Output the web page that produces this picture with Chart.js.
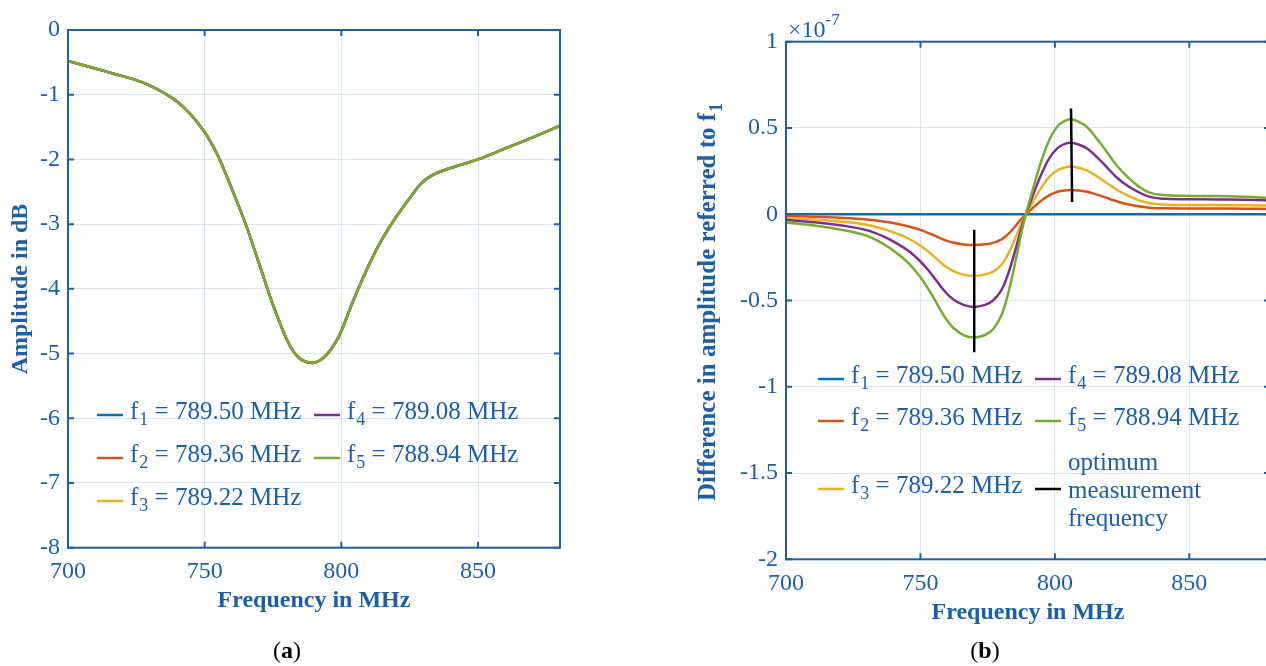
<!DOCTYPE html>
<html>
<head>
<meta charset="utf-8">
<script src="https://cdn.jsdelivr.net/npm/chart.js@4.4.1/dist/chart.umd.min.js"></script>
<style>
    html, body { margin: 0; padding: 0; background: #fff; overflow: hidden; }
    #wrap { position: relative; width: 1266px; height: 666px; overflow: hidden; }
    canvas { position: absolute; top: 0; }
    #ampChart { left: 0; }
    #diffChart { left: 640px; }
</style>
</head>
<body>
<div id="wrap">
    <canvas id="ampChart" width="640" height="666"></canvas>
    <canvas id="diffChart" width="660" height="666"></canvas>
</div>
<script>
// ============================================
// DATA
// ============================================

// (a) resonance curve, amplitude in dB (the five curves overlap within the line width)
const ampFreq = [700, 710, 720, 725, 730, 735, 740, 745, 750, 754, 757, 760, 765, 770, 775, 780, 783, 786, 789.5,
    792, 795, 798, 800, 804.5, 809, 814, 818, 821.5, 825, 829, 833, 838, 844, 850, 860, 870, 880];
const amplitudeDb = [-0.48, -0.595, -0.715, -0.775, -0.86, -0.97, -1.11, -1.31, -1.58, -1.87, -2.15, -2.46, -3.0,
    -3.62, -4.25, -4.78, -5.0, -5.11, -5.145, -5.11, -5.0, -4.82, -4.65, -4.17, -3.73, -3.3, -3.02, -2.8, -2.6,
    -2.38, -2.25, -2.16, -2.08, -2.0, -1.83, -1.66, -1.48];

// (b) difference in amplitude referred to f1, in units of 1e-7
const diffFreq = [700, 710, 720, 730, 737, 742, 746, 750, 753, 756, 759, 762, 766, 770, 774, 777, 780, 782, 784,
    786, 787.5, 789.2, 791, 793, 795, 798, 801, 803.5, 806, 809, 812, 816, 819, 823, 827, 831, 835, 840, 850,
    860, 870, 880];
const refFreq = [700, 880];
const diffF1 = [0, 0];
const diffF2 = [-0.01, -0.014, -0.02, -0.03, -0.044, -0.058, -0.073, -0.091, -0.109, -0.129, -0.149, -0.164,
    -0.175, -0.178, -0.174, -0.166, -0.147, -0.124, -0.093, -0.056, -0.028, 0, 0.025, 0.053, 0.079, 0.111, 0.13,
    0.138, 0.141, 0.137, 0.13, 0.112, 0.096, 0.075, 0.058, 0.046, 0.038, 0.034, 0.033, 0.033, 0.032, 0.031];
const diffF3 = [-0.022, -0.03, -0.042, -0.061, -0.089, -0.117, -0.145, -0.183, -0.218, -0.258, -0.298, -0.328,
    -0.35, -0.357, -0.349, -0.333, -0.295, -0.248, -0.185, -0.113, -0.055, 0, 0.05, 0.105, 0.155, 0.218, 0.255,
    0.27, 0.276, 0.268, 0.253, 0.216, 0.184, 0.142, 0.109, 0.082, 0.065, 0.056, 0.053, 0.053, 0.052, 0.05];
const diffF4 = [-0.034, -0.046, -0.064, -0.092, -0.134, -0.176, -0.218, -0.274, -0.326, -0.386, -0.446, -0.491,
    -0.525, -0.537, -0.525, -0.5, -0.443, -0.372, -0.278, -0.169, -0.083, 0, 0.075, 0.158, 0.233, 0.327, 0.383,
    0.406, 0.414, 0.403, 0.381, 0.325, 0.278, 0.213, 0.165, 0.129, 0.102, 0.09, 0.087, 0.086, 0.084, 0.08];
const diffF5 = [-0.048, -0.064, -0.088, -0.125, -0.18, -0.235, -0.29, -0.365, -0.435, -0.515, -0.595, -0.655,
    -0.70, -0.715, -0.70, -0.667, -0.59, -0.495, -0.37, -0.225, -0.11, 0, 0.10, 0.21, 0.31, 0.435, 0.51, 0.54,
    0.55, 0.535, 0.505, 0.43, 0.368, 0.282, 0.216, 0.163, 0.127, 0.111, 0.106, 0.106, 0.102, 0.094];

// optimum measurement frequency markers (gap between the two bars)
const markerFreq = [770, 770, 788, 806, 806.4];
const markerDiff = [-0.09, -0.80, null, 0.613, 0.071];

const seriesFreqs = ['789.50', '789.36', '789.22', '789.08', '788.94'];
const xTickValues = [700, 750, 800, 850];

// ============================================
// STYLE
// ============================================
const AXIS = '#1a5fa8';
const GRID = 'rgba(26, 95, 168, 0.16)';
const COLORS = ['#0072BD', '#D95319', '#EDB120', '#7E2F8E', '#77AC30'];
const FACE = '"Liberation Serif", "Times New Roman", serif';

function font(size, bold) {
    return (bold ? 'bold ' : '') + size + 'px ' + FACE;
}

function pts(xs, ys) {
    return xs.map((x, i) => ({ x: x, y: ys[i] }));
}

// text with sub/superscripts
function drawRich(ctx, parts, x, y, size, bold, color, align) {
    const small = Math.round(size * 0.72);
    let w = 0;
    parts.forEach(p => {
        ctx.font = font(p.sub || p.sup ? small : size, p.bold !== undefined ? p.bold : bold);
        p.w = ctx.measureText(p.t).width + (p.sub ? 1 : 0);
        w += p.w;
    });
    let cx = align === 'center' ? x - w / 2 : x;
    ctx.fillStyle = color;
    ctx.textBaseline = 'middle';
    ctx.textAlign = 'left';
    parts.forEach(p => {
        ctx.font = font(p.sub || p.sup ? small : size, p.bold !== undefined ? p.bold : bold);
        const dy = p.sub ? size * 0.34 : (p.sup ? -size * 0.42 : 0);
        ctx.fillText(p.t, cx + (p.sub ? 1 : 0), y + dy);
        cx += p.w;
    });
}

function fLabel(i) {
    return [{ t: 'f' }, { t: String(i + 1), sub: true }, { t: ' = ' + seriesFreqs[i] + ' MHz' }];
}

// box, inner tick marks, titles and legend
function makeFigure(spec) {
    return {
        id: 'figure',
        afterDraw(chart) {
            const ctx = chart.ctx;
            const a = chart.chartArea;
            const xs = chart.scales.x;
            const ys = chart.scales.y;
            ctx.save();

            ctx.strokeStyle = AXIS;
            ctx.lineWidth = 2;
            ctx.strokeRect(a.left, a.top, a.right - a.left, a.bottom - a.top);
            ctx.beginPath();
            xs.ticks.forEach(t => {
                const p = xs.getPixelForValue(t.value);
                ctx.moveTo(p, a.bottom); ctx.lineTo(p, a.bottom - 6);
                ctx.moveTo(p, a.top); ctx.lineTo(p, a.top + 6);
            });
            ys.ticks.forEach(t => {
                const p = ys.getPixelForValue(t.value);
                ctx.moveTo(a.left, p); ctx.lineTo(a.left + 6, p);
                ctx.moveTo(a.right, p); ctx.lineTo(a.right - 6, p);
            });
            ctx.stroke();

            // axis titles
            drawRich(ctx, [{ t: 'Frequency in MHz' }], spec.xTitle[0], spec.xTitle[1], 24, true, AXIS, 'center');
            ctx.save();
            ctx.translate(spec.yTitle[0], spec.yTitle[1]);
            ctx.rotate(-Math.PI / 2);
            drawRich(ctx, spec.yTitle[2], 0, 0, spec.yTitle[3], true, AXIS, 'center');
            ctx.restore();

            // panel label
            drawRich(ctx, [{ t: '(', bold: false }, { t: spec.panel[2], bold: true }, { t: ')', bold: false }],
                spec.panel[0], spec.panel[1], 24, false, '#000', 'center');

            if (spec.exponent) {
                drawRich(ctx, [{ t: '\u00d710' }, { t: '-7', sup: true }], spec.exponent[0], spec.exponent[1],
                    24, false, AXIS, 'left');
            }

            // legend
            spec.legend.forEach(item => {
                ctx.strokeStyle = item.color;
                ctx.lineWidth = 2.5;
                ctx.beginPath();
                ctx.moveTo(item.x, item.y);
                ctx.lineTo(item.x + 26, item.y);
                ctx.stroke();
                item.lines.forEach((parts, k) => {
                    drawRich(ctx, parts, item.x + 33, item.ty + k * 28, 25, false, AXIS, 'left');
                });
            });
            ctx.restore();
        }
    };
}

function axes(xHeight, yWidth, yMin, yMax, yStep) {
    const tickFont = { family: FACE, size: 24 };
    return {
        x: {
            type: 'linear', min: 700, max: 880,
            afterBuildTicks: s => { s.ticks = xTickValues.map(v => ({ value: v })); },
            afterFit: s => { s.height = xHeight; },
            grid: { color: GRID, lineWidth: 1, drawTicks: false },
            border: { display: false },
            ticks: { color: AXIS, font: tickFont, padding: 10, maxRotation: 0, callback: v => String(v) }
        },
        y: {
            type: 'linear', min: yMin, max: yMax,
            ticks: { stepSize: yStep, color: AXIS, font: tickFont, padding: 8, callback: v => String(v) },
            afterFit: s => { s.width = yWidth; },
            grid: { color: GRID, lineWidth: 1, drawTicks: false },
            border: { display: false }
        }
    };
}

function line(label, data, color, order) {
    return {
        label: label, data: data, borderColor: color, backgroundColor: color,
        borderWidth: 2.5, pointRadius: 0, fill: false, order: order, tension: 0.4
    };
}

const baseOptions = {
    responsive: false,
    animation: false,
    devicePixelRatio: 1,
    plugins: { legend: { display: false }, tooltip: { enabled: false } }
};

// ============================================
// (a) AMPLITUDE
// ============================================
new Chart(document.getElementById('ampChart'), {
    type: 'line',
    data: {
        datasets: COLORS.map((c, i) => line('f' + (i + 1), pts(ampFreq, amplitudeDb), c, 5 - i))
    },
    options: Object.assign({}, baseOptions, {
        layout: { padding: { left: 0, top: 30, right: 80, bottom: 0 } },
        scales: axes(118.3, 68, -8, 0, 1)
    }),
    plugins: [makeFigure({
        xTitle: [314, 601],
        yTitle: [21, 289, [{ t: 'Amplitude in dB' }], 24],
        panel: [287, 652, 'a'],
        legend: [
            { color: COLORS[0], x: 97, y: 415, ty: 412, lines: [fLabel(0)] },
            { color: COLORS[1], x: 97, y: 458, ty: 455, lines: [fLabel(1)] },
            { color: COLORS[2], x: 97, y: 501, ty: 498, lines: [fLabel(2)] },
            { color: COLORS[3], x: 314, y: 415, ty: 412, lines: [fLabel(3)] },
            { color: COLORS[4], x: 314, y: 458, ty: 455, lines: [fLabel(4)] }
        ]
    })]
});

// ============================================
// (b) DIFFERENCE
// ============================================
new Chart(document.getElementById('diffChart'), {
    type: 'line',
    data: {
        datasets: [
            line('f1', pts(refFreq, diffF1), COLORS[0], 5),
            line('f2', pts(diffFreq, diffF2), COLORS[1], 4),
            line('f3', pts(diffFreq, diffF3), COLORS[2], 3),
            line('f4', pts(diffFreq, diffF4), COLORS[3], 2),
            line('f5', pts(diffFreq, diffF5), COLORS[4], 1),
            Object.assign(line('optimum', pts(markerFreq, markerDiff), '#000', 0), { tension: 0 })
        ]
    },
    options: Object.assign({}, baseOptions, {
        layout: { padding: { left: 0, top: 41.7, right: 30, bottom: 0 } },
        scales: axes(106.7, 146, -2, 1, 0.5)
    }),
    plugins: [makeFigure({
        xTitle: [388, 613],
        yTitle: [69, 302, [{ t: 'Difference in amplitude referred to f' }, { t: '1', sub: true }], 25],
        panel: [345, 652, 'b'],
        exponent: [148, 31],
        legend: [
            { color: COLORS[0], x: 178, y: 379, ty: 376, lines: [fLabel(0)] },
            { color: COLORS[1], x: 178, y: 421, ty: 418, lines: [fLabel(1)] },
            { color: COLORS[2], x: 178, y: 489, ty: 486, lines: [fLabel(2)] },
            { color: COLORS[3], x: 395, y: 379, ty: 376, lines: [fLabel(3)] },
            { color: COLORS[4], x: 395, y: 421, ty: 418, lines: [fLabel(4)] },
            { color: '#000', x: 395, y: 489, ty: 463,
              lines: [[{ t: 'optimum' }], [{ t: 'measurement' }], [{ t: 'frequency' }]] }
        ]
    })]
});
</script>
</body>
</html>
